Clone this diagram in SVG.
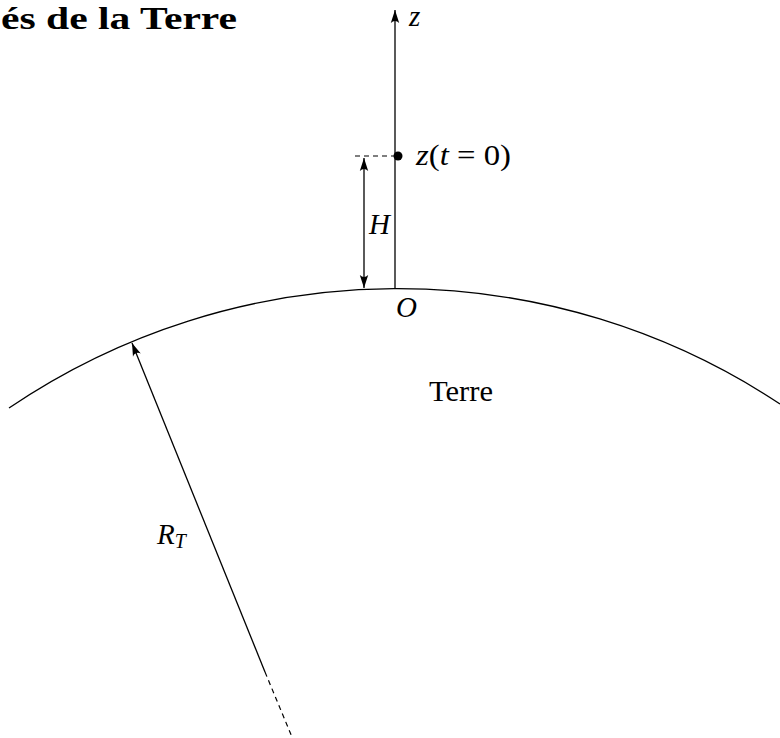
<svg xmlns="http://www.w3.org/2000/svg" width="780" height="738" viewBox="0 0 780 738">
  <style>
    .ln { fill: none; stroke: #000; stroke-width: 1.3; }
    .dash { fill: none; stroke: #000; stroke-width: 1.2; stroke-dasharray: 5 4; }
    .txt { font-family: "Liberation Serif", "DejaVu Serif", serif; font-size: 29px; fill: #000; }
    .math { font-family: "Liberation Serif", "DejaVu Serif", serif; font-style: italic; font-size: 29px; fill: #000; }
    .title { font-family: "Liberation Serif", "DejaVu Serif", serif; font-weight: bold; font-size: 32px; fill: #000; }
  </style>
  <defs>
    <marker id="arr" viewBox="-14 -6 15 12" refX="0" refY="0" markerWidth="15" markerHeight="12" markerUnits="userSpaceOnUse" orient="auto-start-reverse">
      <path d="M0,0 L-13,-4.2 Q-9,0 -13,4.2 Z" fill="#000"/>
    </marker>
  </defs>
  <rect width="780" height="738" fill="#fff"/>

  <g id="title">
    <text class="title" x="1" y="29" textLength="236" lengthAdjust="spacingAndGlyphs">és de la Terre</text>
  </g>

  <g id="earth">
    <path class="ln" d="M 9 408 A 692 692 0 0 1 780 404"/>
    <text class="txt" x="429" y="401" textLength="64" lengthAdjust="spacingAndGlyphs">Terre</text>
  </g>

  <g id="connectors">
    <line id="z-axis" class="ln" x1="395" y1="289" x2="395" y2="10" marker-end="url(#arr)"/>
    <line id="h-arrow" class="ln" x1="364" y1="158" x2="364" y2="288" marker-start="url(#arr)" marker-end="url(#arr)"/>
    <line id="h-dash" class="dash" x1="355" y1="156" x2="395" y2="156"/>
    <line id="radius" class="ln" x1="265" y1="672" x2="132" y2="343" marker-end="url(#arr)"/>
    <line id="radius-dash" class="dash" x1="265" y1="672" x2="292" y2="737"/>
  </g>

  <g id="point">
    <circle cx="398" cy="156" r="4.5" fill="#000"/>
    <text class="math" x="416" y="165" textLength="95" lengthAdjust="spacingAndGlyphs"><tspan>z</tspan><tspan font-style="normal">(</tspan><tspan>t</tspan><tspan font-style="normal"> = 0)</tspan></text>
  </g>

  <g id="labels">
    <text class="math" x="409" y="26">z</text>
    <text class="math" x="369" y="234">H</text>
    <text class="math" x="396" y="317">O</text>
    <text class="math" x="157" y="544">R<tspan font-size="20" dy="4">T</tspan></text>
  </g>
</svg>
